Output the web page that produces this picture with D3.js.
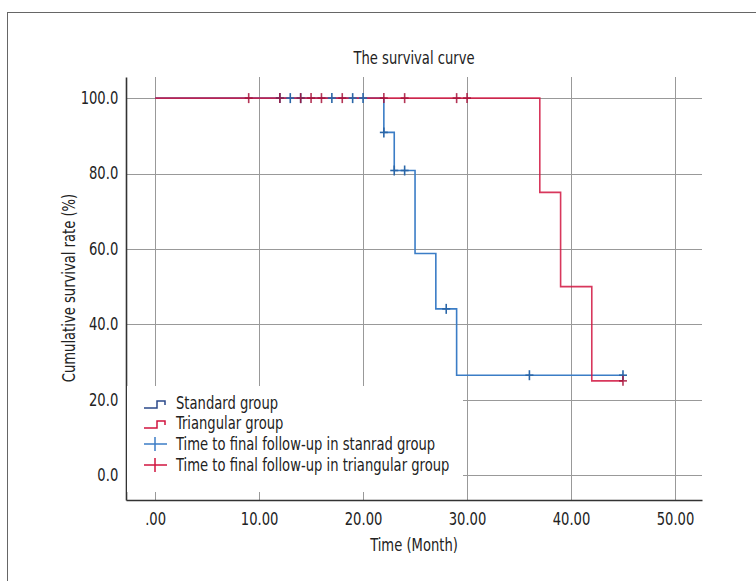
<!DOCTYPE html>
<html>
<head>
<meta charset="utf-8">
<script src="https://cdn.jsdelivr.net/npm/d3@7/dist/d3.min.js"></script>
<style>
  html, body { margin: 0; padding: 0; background: #fff; }
  svg text { font-family: "DejaVu Sans Condensed", "Liberation Sans Narrow", sans-serif; fill: #222; }
</style>
</head>
<body>
<svg id="chart" width="756" height="581"></svg>
<script>
// ---- data ----
const xTicks = [0, 10, 20, 30, 40, 50];
const xTickLabels = [".00", "10.00", "20.00", "30.00", "40.00", "50.00"];
const yTicks = [0, 20, 40, 60, 80, 100];
const yTickLabels = ["0.0", "20.0", "40.0", "60.0", "80.0", "100.0"];

const standardTimes = [0, 22, 23, 25, 27, 29, 45];
const standardSurv  = [100, 90.9, 80.8, 58.8, 44.1, 26.5, 26.5];
const triangularTimes = [0, 37, 39, 42, 45];
const triangularSurv  = [100, 75, 50, 25, 25];

const standardCensor   = [12, 13, 14, 17, 19, 20, 22, 23, 24, 28, 36, 45];
const triangularCensor = [9, 12, 14, 15, 16, 18, 22, 24, 29, 30, 45];

const legendLabels = ["Standard group", "Triangular group",
  "Time to final follow-up in stanrad group", "Time to final follow-up in triangular group"];

// ---- layout ----
const svg = d3.select("#chart");
const blue = "#3b7dc6", blueMark = "#2a66a8", navy = "#2b4a8a";
const red = "#d1143f";
const K = 0.86; // horizontal condense factor
const FS = 17;

const x = d3.scaleLinear().domain([-2.8, 52.6]).range([126, 702]);
const y = d3.scaleLinear().domain([-6.6, 105.6]).range([500, 77]);

function ctext(px, py, str, anchor, extra) {
  return svg.append("text")
    .attr("transform", `translate(${px},${py}) ${extra || ""} scale(${K},1)`)
    .attr("text-anchor", anchor || "start").attr("font-size", FS).text(str);
}

// outer frame
svg.append("rect").attr("x", 7.5).attr("y", 12.5).attr("width", 800).attr("height", 600)
  .attr("fill", "none").attr("stroke", "#666").attr("stroke-width", 1);

// title
ctext(414, 64, "The survival curve", "middle");

// grid
const grid = svg.append("g").attr("stroke", "#999").attr("stroke-width", 1);
yTicks.forEach(v => {
  grid.append("line").attr("x1", x.range()[0]).attr("x2", x.range()[1])
    .attr("y1", Math.round(y(v)) + 0.5).attr("y2", Math.round(y(v)) + 0.5);
});
xTicks.forEach(v => {
  grid.append("line").attr("y1", y.range()[0]).attr("y2", y.range()[1])
    .attr("x1", Math.round(x(v)) + 0.5).attr("x2", Math.round(x(v)) + 0.5);
});

// axes
const xAxis = d3.axisBottom(x).tickValues(xTicks).tickSize(0).tickPadding(13)
  .tickFormat((d, i) => xTickLabels[i]);
const gx = svg.append("g").attr("transform", "translate(0,500)").call(xAxis);
gx.select(".domain").attr("stroke", "#333").attr("stroke-width", 1.6);
gx.selectAll("text").attr("font-size", FS).attr("fill", "#222").attr("transform", `scale(${K},1)`);

const yAxis = d3.axisLeft(y).tickValues(yTicks).tickSize(0).tickPadding(9)
  .tickFormat((d, i) => yTickLabels[i]);
const gy = svg.append("g").attr("transform", "translate(126,0)").call(yAxis);
gy.select(".domain").attr("stroke", "#333").attr("stroke-width", 1.6);
gy.selectAll("text").attr("font-size", FS).attr("fill", "#222").attr("transform", `scale(${K},1)`);

// axis titles
ctext(414, 551, "Time (Month)", "middle");
ctext(75, 288, "Cumulative survival rate (%)", "middle", "rotate(-90)");

// step curves
function stepData(times, surv) { return times.map((t, i) => [t, surv[i]]); }
const line = d3.line().x(d => x(d[0])).y(d => y(d[1])).curve(d3.curveStepAfter);
function survAt(times, surv, t) {
  let v = surv[0];
  for (let i = 0; i < times.length; i++) if (times[i] <= t) v = surv[i];
  return v;
}

svg.append("path").datum(stepData(standardTimes, standardSurv))
  .attr("d", line).attr("fill", "none").attr("stroke", blue).attr("stroke-width", 1.6);
svg.append("path").datum(stepData(triangularTimes, triangularSurv))
  .attr("d", line).attr("fill", "none").attr("stroke", red).attr("stroke-width", 1.6)
  .attr("opacity", 0.85);

// censor marks
function censor(times, st, sv, color, op) {
  const g = svg.append("g").attr("stroke", color).attr("stroke-width", 1.6).attr("opacity", op);
  times.forEach(t => {
    const cx = x(t), cy = y(survAt(st, sv, t));
    g.append("line").attr("x1", cx).attr("x2", cx).attr("y1", cy - 5).attr("y2", cy + 5);
    g.append("line").attr("x1", cx - 4).attr("x2", cx + 4).attr("y1", cy).attr("y2", cy);
  });
}
censor(standardCensor, standardTimes, standardSurv, blueMark, 1);
censor(triangularCensor, triangularTimes, triangularSurv, "#a8123a", 0.85);

// legend
svg.append("rect").attr("x", 127).attr("y", 386).attr("width", 336).attr("height", 106)
  .attr("fill", "#fff");
const ly = [403, 423, 444, 465];
const lg = svg.append("g");
[navy, red].forEach((c, i) => {
  const yy = ly[i];
  lg.append("path")
    .attr("d", `M144,${yy + 5} H157 V${yy - 2} H165 V${yy + 2}`)
    .attr("fill", "none").attr("stroke", c).attr("stroke-width", 1.5);
});
[blue, red].forEach((c, i) => {
  const yy = ly[i + 2];
  lg.append("line").attr("x1", 144).attr("x2", 167).attr("y1", yy).attr("y2", yy)
    .attr("stroke", c).attr("stroke-width", 1.5);
  lg.append("line").attr("x1", 155).attr("x2", 155).attr("y1", yy - 7).attr("y2", yy + 7)
    .attr("stroke", c).attr("stroke-width", 1.5);
});
legendLabels.forEach((t, i) => {
  ctext(176, ly[i] + 6, t, "start");
});
</script>
</body>
</html>
